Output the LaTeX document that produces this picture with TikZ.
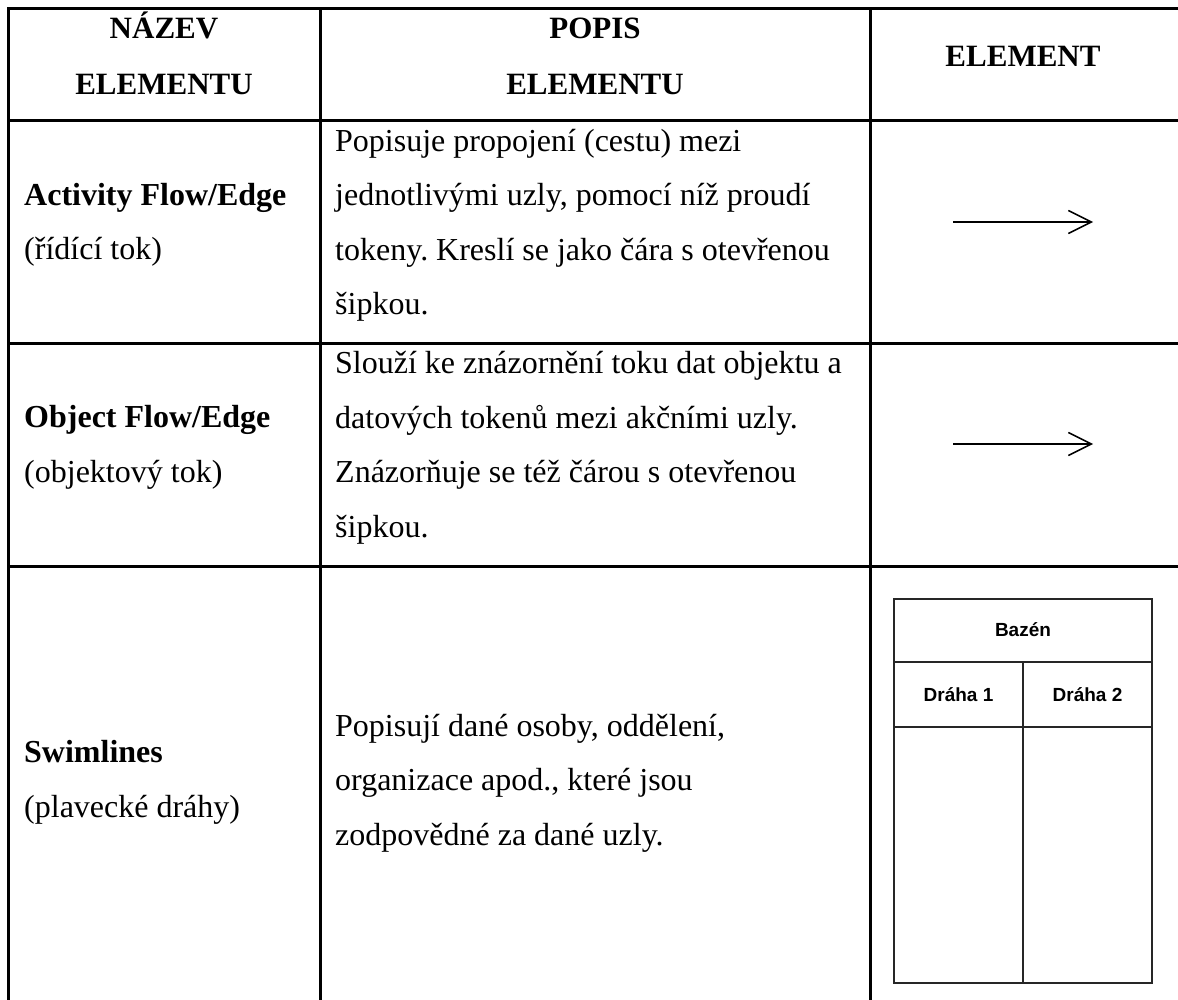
\documentclass[tikz,border=0pt]{standalone}
\usepackage{fontspec}
\setmainfont{Liberation Serif}
\newfontfamily\lanefont{Liberation Sans}
\usetikzlibrary{arrows.meta}
\frenchspacing

\begin{document}
\begin{tikzpicture}[x=1pt, y=-1pt,
    grid/.style={line width=3pt},
    head/.style={align=center, anchor=base, inner sep=0pt, font=\fontsize{31}{56}\selectfont\bfseries},
    cell/.style={align=left, anchor=base west, inner sep=0pt, font=\fontsize{32}{54.5}\selectfont},
    flow/.style={line width=1.5pt, -{Straight Barb[length=23pt, width=23pt, line width=1.5pt]}},
    lane/.style={line width=1.3pt, draw=black!85},
    lanetext/.style={inner sep=0pt, font=\lanefont\bfseries\fontsize{19}{22}\selectfont}]
\useasboundingbox (0,0) rectangle (1178,1000);
\draw[grid] (8,9) rectangle (1182,1020);
\draw[grid] (8,121) -- (1182,121);
\draw[grid] (8,343) -- (1182,343);
\draw[grid] (8,566) -- (1182,566);
\draw[grid] (320,9) -- (320,1020);
\draw[grid] (870,9) -- (870,1020);
\node[head] (hname) at (164,95) {NÁZEV\\ELEMENTU};
\node[head] (hdesc) at (595,95) {POPIS\\ELEMENTU};
\node[head] (helem) at (1023,67) {ELEMENT};
\node[cell] (nactivity) at (24,260) {\textbf{Activity Flow/Edge}\\(řídící tok)};
\node[cell] (dactivity) at (335,315) {Popisuje propojení (cestu) mezi\\jednotlivými uzly, pomocí níž proudí\\tokeny. Kreslí se jako čára s otevřenou\\šipkou.};
\node[cell] (nobject) at (24,482) {\textbf{Object Flow/Edge}\\(objektový tok)};
\node[cell] (dobject) at (335,537) {Slouží ke znázornění toku dat objektu a\\datových tokenů mezi akčními uzly.\\Znázorňuje se též čárou s otevřenou\\šipkou.};
\node[cell] (nswim) at (24,817) {\textbf{Swimlines}\\(plavecké dráhy)};
\node[cell] (dswim) at (335,845) {Popisují dané osoby, oddělení,\\organizace apod., které jsou\\zodpovědné za dané uzly.};
\coordinate (activitystart) at (953,222);
\coordinate (activityend) at (1093,222);
\draw[flow] (activitystart) -- (activityend);
\coordinate (objectstart) at (953,444);
\coordinate (objectend) at (1093,444);
\draw[flow] (objectstart) -- (objectend);
\draw[lane] (894,599) rectangle (1152,983);
\draw[lane] (894,662) -- (1152,662);
\draw[lane] (894,727) -- (1152,727);
\draw[lane] (1023,662) -- (1023,983);
\node[lanetext] (pool) at (1023,630) {Bazén};
\node[lanetext] (laneone) at (958.5,695) {Dráha 1};
\node[lanetext] (lanetwo) at (1087.5,695) {Dráha 2};
\end{tikzpicture}
\end{document}
